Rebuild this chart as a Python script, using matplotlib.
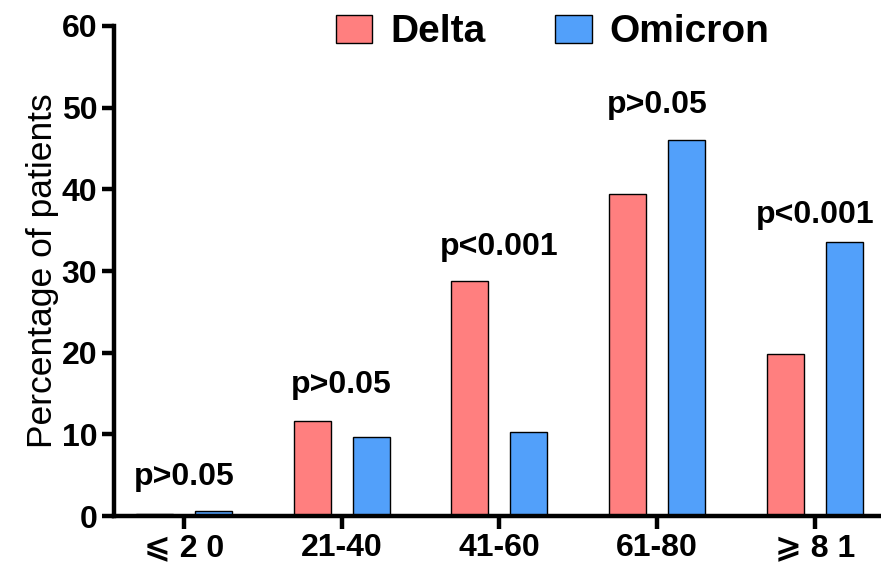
import matplotlib
matplotlib.use("Agg")
import matplotlib.pyplot as plt
import numpy as np

plt.rcParams["font.family"] = ["Liberation Sans", "DejaVu Sans"]

# data
age_groups = ["⩽ 2 0", "21-40", "41-60", "61-80", "⩾ 8 1"]
delta = [0.2, 11.6, 28.8, 39.4, 19.8]
omicron = [0.6, 9.7, 10.3, 46.0, 33.5]
p_labels = ["p>0.05", "p>0.05", "p<0.001", "p>0.05", "p<0.001"]
p_heights = [2.9, 14.2, 31.1, 48.5, 35.0]

_COLORS = {
    "delta": "#FF7F7F",
    "omicron": "#52A0FA",
    "ink": "#000000",
}

fig = plt.figure(figsize=(8.81, 5.7), dpi=100, facecolor="white")
ax = fig.add_axes([0.1294, 0.0947, 0.8706, 0.8597])

x = np.arange(len(age_groups))
width = 0.235
offset = 0.187

ax.bar(x - offset, delta, width, color=_COLORS["delta"], edgecolor=_COLORS["ink"],
       linewidth=1.0, label="Delta", zorder=2)
ax.bar(x + offset, omicron, width, color=_COLORS["omicron"], edgecolor=_COLORS["ink"],
       linewidth=1.0, label="Omicron", zorder=2)

for xi, txt, h in zip(x, p_labels, p_heights):
    ax.text(xi, h, txt, ha="center", va="bottom", fontsize=23, fontweight="bold")

ax.set_xlim(-0.443, 4.42)
ax.set_ylim(0, 60)
ax.set_yticks(range(0, 61, 10))
ax.set_xticks(x)
ax.set_xticklabels(age_groups)

for side in ("top", "right"):
    ax.spines[side].set_visible(False)
for side in ("left", "bottom"):
    ax.spines[side].set_linewidth(3.2)
ax.spines["left"].set_bounds(0, 60)

ax.tick_params(axis="both", direction="out", length=9, width=3.2, labelsize=23, pad=3)
for lab in ax.get_xticklabels() + ax.get_yticklabels():
    lab.set_fontweight("bold")

ax.set_ylabel("Percentage of patients", fontsize=25.5, labelpad=2)

ax.legend(loc="upper center", bbox_to_anchor=(0.572, 1.095), ncol=2, frameon=False,
          prop={"size": 28, "weight": "bold"}, handlelength=0.93, handleheight=0.72,
          columnspacing=1.8, handletextpad=0.46)

fig.savefig("out.png", dpi=100, facecolor="white")
